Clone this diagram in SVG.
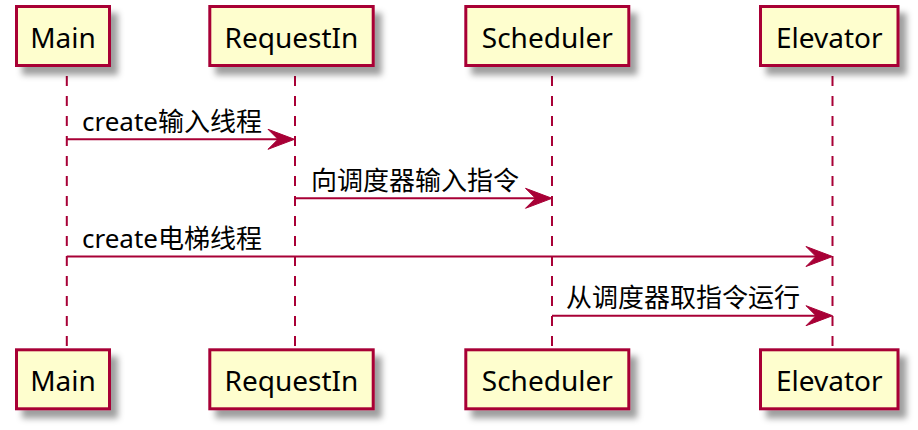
<svg xmlns="http://www.w3.org/2000/svg" width="918" height="430" viewBox="0 0 918 430">
<style>
.box{fill:#FEFECE;stroke:#A80036;stroke-width:3;filter:url(#sh)}
.pt{font-family:"Noto Sans","Open Sans","DejaVu Sans",sans-serif;font-size:28px;fill:#000;text-anchor:middle}
.life{stroke:#A80036;stroke-width:2;stroke-dasharray:10 10;fill:none}
.msg{stroke:#A80036;stroke-width:2;fill:none}
.head{fill:#A80036;stroke:#A80036;stroke-width:1;stroke-linejoin:miter}
.mt{font-family:"Noto Sans","Noto Sans CJK SC",sans-serif;font-size:26px;fill:#000}
</style>
<defs>
<filter id="sh" x="-20%" y="-20%" width="150%" height="160%">
<feDropShadow dx="7" dy="8" stdDeviation="3" flood-color="#000" flood-opacity="0.38"/>
</filter>
</defs>
<rect width="918" height="430" fill="#fff"/>
<g id="lifelines">
<line class="life" x1="66.8" y1="76" x2="66.8" y2="350"/>
<line class="life" x1="295" y1="76" x2="295" y2="350"/>
<line class="life" x1="552" y1="76" x2="552" y2="350"/>
<line class="life" x1="832.5" y1="76" x2="832.5" y2="350"/>
</g>
<g id="Main">
<rect class="box" x="16.5" y="6.5" width="93" height="59"/>
<text class="pt" x="63" y="47.5">Main</text>
<rect class="box" x="16.5" y="349.8" width="93" height="59"/>
<text class="pt" x="63" y="390.7">Main</text>
</g>
<g id="RequestIn">
<rect class="box" x="209.8" y="6.5" width="163.4" height="59"/>
<text class="pt" x="291.5" y="47.5">RequestIn</text>
<rect class="box" x="209.8" y="349.8" width="163.4" height="59"/>
<text class="pt" x="291.5" y="390.7">RequestIn</text>
</g>
<g id="Scheduler">
<rect class="box" x="465.8" y="6.5" width="163" height="59"/>
<text class="pt" x="547.3" y="47.5">Scheduler</text>
<rect class="box" x="465.8" y="349.8" width="163" height="59"/>
<text class="pt" x="547.3" y="390.7">Scheduler</text>
</g>
<g id="Elevator">
<rect class="box" x="760.5" y="6.5" width="137.5" height="59"/>
<text class="pt" x="829.3" y="47.5">Elevator</text>
<rect class="box" x="760.5" y="349.8" width="137.5" height="59"/>
<text class="pt" x="829.3" y="390.7">Elevator</text>
</g>
<g id="connectors">
<line class="msg" x1="66.8" y1="139.3" x2="285" y2="139.3"/>
<polygon class="head" points="268,129.3 294.5,139.3 268,149.3 278,139.3"/>
<text class="mt" x="82" y="130.5">create输入线程</text>
<line class="msg" x1="295" y1="198.3" x2="542" y2="198.3"/>
<polygon class="head" points="525.5,188.3 552,198.3 525.5,208.3 535.5,198.3"/>
<text class="mt" x="311" y="189.5">向调度器输入指令</text>
<line class="msg" x1="66.8" y1="256.5" x2="822" y2="256.5"/>
<polygon class="head" points="806,246.5 832.5,256.5 806,266.5 816,256.5"/>
<text class="mt" x="82" y="247.7">create电梯线程</text>
<line class="msg" x1="552" y1="315.7" x2="822" y2="315.7"/>
<polygon class="head" points="806,305.7 832.5,315.7 806,325.7 816,315.7"/>
<text class="mt" x="566" y="306.9">从调度器取指令运行</text>
</g>
</svg>
